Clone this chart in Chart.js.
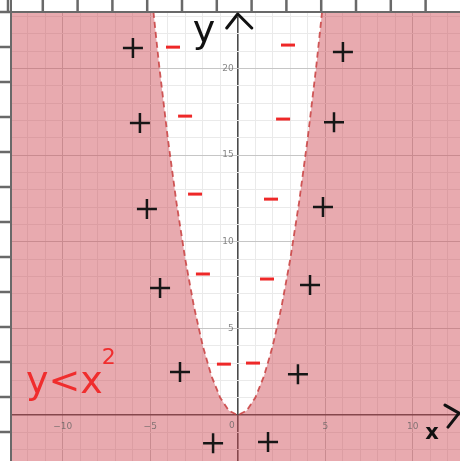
<!DOCTYPE html>
<html>
<head>
<meta charset="utf-8">
<script src="https://cdn.jsdelivr.net/npm/chart.js@4.4.1/dist/chart.umd.min.js"></script>
<style>
  html, body { margin: 0; padding: 0; background: #fff; }
  #wrap { width: 460px; height: 461px; }
</style>
</head>
<body>
<div id="wrap"><canvas id="graph"></canvas></div>
<script>
// boundary y = x^2
var curveX = [-13, -6, -5, -4.5, -4, -3.5, -3, -2.5, -2, -1.5, -1, -0.5, 0, 0.5, 1, 1.5, 2, 2.5, 3, 3.5, 4, 4.5, 5, 6, 13];
var curveY = [169, 36, 25, 20.25, 16, 12.25, 9, 6.25, 4, 2.25, 1, 0.25, 0, 0.25, 1, 2.25, 4, 6.25, 9, 12.25, 16, 20.25, 25, 36, 169];

// hand drawn signs
var plusX = [-5.99, -5.59, -5.19, -4.44, -3.30, -1.41, 6.01, 5.50, 4.87, 4.13, 3.44, 1.73];
var plusY = [21.18, 16.85, 11.89, 7.33, 2.48, -1.62, 20.95, 16.9, 12.0, 7.5, 2.36, -1.56];
var minusX = [-3.70, -3.01, -2.44, -1.99, -0.79, 2.87, 2.59, 1.90, 1.67, 0.87];
var minusY = [21.23, 17.25, 12.75, 8.14, 2.94, 21.35, 17.08, 12.46, 7.85, 3.0];

var xTickLabels = [-10, -5, 5, 10];
var yTickLabels = [5, 10, 15, 20];

function pts(xs, ys) {
  return xs.map(function (x, i) { return { x: x, y: ys[i] }; });
}

function gridColor(ctx) {
  var v = ctx.tick.value;
  if (v === 0) return 'rgb(75,75,75)';
  if (v % 5 === 0) return 'rgb(198,198,198)';
  return 'rgb(234,234,234)';
}

function gridWidth(ctx) {
  return ctx.tick.value === 0 ? 1.6 : 1;
}

function noRoom(horizontal) {
  return function (s) {
    if (horizontal) s.height = 0; else s.width = 0;
    s.paddingLeft = s.paddingRight = s.paddingTop = s.paddingBottom = 0;
  };
}

// graph paper strip on the left and top
var paper = {
  id: 'paper',
  beforeDraw: function (chart) {
    var c = chart.ctx;
    c.save();
    c.fillStyle = '#fff';
    c.fillRect(0, 0, chart.width, chart.height);
    c.strokeStyle = 'rgb(105,105,105)';
    c.lineWidth = 2.5;
    c.beginPath();
    for (var yy = 12; yy < chart.height; yy += 35) {
      c.moveTo(0, yy); c.lineTo(11, yy);
    }
    for (var xx = 8; xx < chart.width; xx += 34.8) {
      c.moveTo(xx, 0); c.lineTo(xx, 12);
    }
    c.stroke();
    c.lineWidth = 2;
    c.beginPath();
    c.moveTo(11, 0); c.lineTo(11, chart.height);
    c.moveTo(0, 12); c.lineTo(chart.width, 12);
    c.stroke();
    c.restore();
  }
};

var notes = {
  id: 'notes',
  afterDraw: function (chart) {
    var c = chart.ctx, sx = chart.scales.x, sy = chart.scales.y, area = chart.chartArea;
    var ox = sx.getPixelForValue(0), oy = sy.getPixelForValue(0);
    c.save();

    // tick labels next to the axes
    c.fillStyle = 'rgba(95,95,95,0.75)';
    c.font = '9px "DejaVu Sans"';
    c.textAlign = 'center';
    c.textBaseline = 'middle';
    xTickLabels.forEach(function (v) {
      c.fillText(String(v).replace('-', '\u2212'), sx.getPixelForValue(v), oy + 12);
    });
    c.textAlign = 'right';
    yTickLabels.forEach(function (v) {
      c.fillText(String(v), ox - 4, sy.getPixelForValue(v));
    });
    c.fillText('0', ox - 3, oy + 11);

    // axis arrows
    c.strokeStyle = '#111';
    c.lineWidth = 3;
    c.lineCap = 'round';
    c.lineJoin = 'round';
    c.beginPath();
    c.moveTo(ox - 11, area.top + 15);
    c.lineTo(ox, area.top + 1);
    c.lineTo(ox + 14, area.top + 15);
    c.moveTo(area.right - 15, oy - 10);
    c.lineTo(area.right - 1, oy - 2);
    c.lineTo(area.right - 12, oy + 12);
    c.stroke();

    // axis names
    c.fillStyle = '#111';
    c.textAlign = 'left';
    c.textBaseline = 'alphabetic';
    c.font = '38px "DejaVu Sans"';
    c.fillText('y', ox - 45, area.top + 29);
    c.textAlign = 'center';
    c.font = 'bold 21px "DejaVu Sans"';
    c.fillText('x', area.right - 28, oy + 24);

    // the inequality
    c.fillStyle = 'rgb(240,45,45)';
    c.textAlign = 'left';
    c.font = '38px "DejaVu Sans"';
    var tx = area.left + 14, ty = oy - 22;
    c.fillText('y<x', tx, ty);
    var w = c.measureText('y<x').width;
    c.font = '22px "DejaVu Sans"';
    c.fillText('2', tx + w - 1, ty - 29);
    c.restore();
  }
};

new Chart('graph', {
  type: 'scatter',
  data: {
    datasets: [
      {
        data: pts(plusX, plusY),
        pointStyle: 'cross',
        pointRadius: 10,
        pointBorderWidth: 2.5,
        pointBorderColor: '#161616',
        showLine: false,
        order: 1
      },
      {
        data: pts(minusX, minusY),
        pointStyle: 'line',
        pointRadius: 7,
        pointBorderWidth: 3,
        pointBorderColor: 'rgb(238,40,40)',
        showLine: false,
        order: 2
      },
      {
        data: pts(curveX, curveY),
        showLine: true,
        pointRadius: 0,
        borderColor: 'rgba(200,62,62,0.85)',
        borderWidth: 1.8,
        borderDash: [6, 4],
        backgroundColor: 'rgba(204,66,77,0.45)',
        fill: 'start',
        order: 3
      }
    ]
  },
  options: {
    responsive: true,
    maintainAspectRatio: false,
    animation: false,
    events: [],
    layout: { autoPadding: false, padding: { left: 12, top: 13, right: 0, bottom: 0 } },
    plugins: {
      legend: { display: false },
      tooltip: { enabled: false }
    },
    scales: {
      x: {
        type: 'linear',
        min: -12.9,
        max: 12.7,
        ticks: { display: false, stepSize: 1, includeBounds: false },
        border: { display: false },
        grid: { drawTicks: false, color: gridColor, lineWidth: gridWidth },
        afterFit: noRoom(true)
      },
      y: {
        type: 'linear',
        min: -2.65,
        max: 23.2,
        ticks: { display: false, stepSize: 1, includeBounds: false },
        border: { display: false },
        grid: { drawTicks: false, color: gridColor, lineWidth: gridWidth },
        afterFit: noRoom(false)
      }
    }
  },
  plugins: [paper, notes]
});
</script>
</body>
</html>
